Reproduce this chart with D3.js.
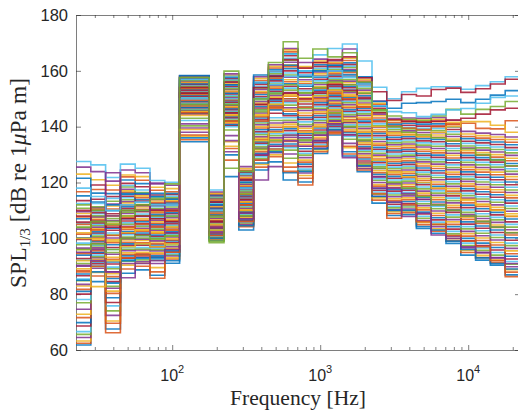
<!DOCTYPE html>
<html><head><meta charset="utf-8">
<script src="https://cdn.jsdelivr.net/npm/d3@7"></script>
<style>body{margin:0;background:#fff}svg{display:block}</style>
</head><body><svg id="c" width="518" height="412"></svg>
<script>
// 1/3-octave band centres (Hz)
const bandCenters = [25, 31.5, 40, 50, 63, 80, 100, 125, 160, 200, 250, 315, 400, 500, 630, 800, 1000, 1250, 1600, 2000, 2500, 3150, 4000, 5000, 6300, 8000, 10000, 12500, 16000, 20000];
const yTicks = [60, 80, 100, 120, 140, 160, 180];
const xMajorTicks = [100, 1000, 10000];
const xMajorExp = ["2", "3", "4"];
const xMinorTicks = [30, 40, 50, 60, 70, 80, 90, 200, 300, 400, 500, 600, 700, 800, 900, 2000, 3000, 4000, 5000, 6000, 7000, 8000, 9000, 20000];

// Levels (dB re 1 uPa m) read per band for the bulk of the recordings, low to high
const lv25 = [61.8, 62.4, 63.2, 64.5, 65.6, 66.6, 68.6, 69.8, 71.6, 72.8, 74.6, 76.9, 78.1, 80, 81, 81.7, 82.9, 83.5, 84.8, 85.4, 86.6, 87.2, 88.5, 89.1, 90.3, 91, 92.2, 92.8, 94, 94.6, 95.9, 96.5, 97.7, 98.3, 99.6, 100.2, 101.5, 102, 103.3, 103.9, 105.2, 105.8, 107, 107.7, 108.9, 109.5, 110.8, 112.5, 113.5, 115.2, 116.7, 123, 125.5];
const lv31 = [84.5, 86.5, 87.8, 89.3, 89.9, 90.3, 90.9, 91.5, 91.8, 92.5, 93.1, 93.4, 94, 94.7, 95, 95.6, 96.2, 96.6, 97.3, 97.6, 98.2, 98.9, 99.2, 99.8, 100.4, 100.8, 101.5, 101.9, 102.4, 103.1, 103.4, 104, 104.6, 105.1, 105.5, 106.2, 106.6, 107.3, 107.7, 108.1, 108.8, 109.2, 109.9, 110.3, 110.8, 111, 111.3, 112.5, 114, 116.2, 117.5, 121, 123.9];
const lv40 = [67.5, 69.6, 70.4, 72.4, 74, 75.8, 77, 78.7, 80.3, 81.1, 82.1, 82.8, 83.9, 84.5, 85.6, 86.3, 87.3, 88, 89.1, 89.7, 90.8, 91.5, 92.5, 93.2, 94.3, 94.9, 96, 96.7, 97.7, 98.4, 99.5, 100.1, 101.2, 101.9, 102.9, 103.6, 104.7, 105.3, 106.4, 107.1, 108.1, 108.8, 109.9, 110.5, 111.6, 112.3, 113.3, 114.3, 115, 116, 117.3, 119, 120.5];
const lv50 = [87.5, 89, 90.4, 91, 91.8, 92.3, 92.9, 93.7, 94.2, 94.8, 95.6, 96.1, 96.7, 97.5, 98, 98.6, 99.4, 99.9, 100.5, 101.3, 101.8, 102.4, 103.2, 103.7, 104.3, 105.1, 105.6, 106.2, 107, 107.5, 108.1, 108.9, 109.4, 110, 110.8, 111.3, 111.9, 112.7, 113.2, 113.8, 114.6, 115.1, 115.7, 116.5, 117, 117.6, 118.4, 118.9, 119.7, 120.9, 122, 122.7, 124.5];
const lv63 = [88.7, 90, 91.1, 91.6, 92.3, 92.8, 93.3, 94.1, 94.5, 95, 95.8, 96.2, 96.7, 97.5, 98, 98.4, 99.2, 99.7, 100.1, 100.9, 101.4, 101.9, 102.6, 103.1, 103.6, 104.3, 104.8, 105.3, 106, 106.5, 107, 107.8, 108.2, 108.7, 109.5, 110, 110.4, 111.2, 111.7, 112.1, 112.9, 113.4, 113.9, 114.6, 115.2, 115.8, 116.4, 117.3, 118.5, 119.6, 120.8, 122.1, 123.5];
const lv80 = [86.8, 88, 89.5, 91, 92.2, 92.6, 93.3, 93.7, 94.4, 94.8, 95.5, 95.9, 96.5, 97, 97.6, 98, 98.7, 99.1, 99.7, 100.2, 100.8, 101.2, 101.8, 102.3, 102.9, 103.3, 103.9, 104.4, 105, 105.4, 106, 106.5, 107.1, 107.5, 108.1, 108.6, 109.2, 109.6, 110.3, 110.7, 111.3, 111.8, 112.4, 112.8, 113.4, 113.9, 114.5, 114.9, 115.5, 116.1, 117.2, 118.3, 119.5];
const lv100 = [92, 92.6, 93, 93.7, 94.1, 94.5, 95.1, 95.5, 96.1, 96.4, 97, 97.6, 98, 98.4, 99.1, 99.4, 99.9, 100.5, 100.8, 101.5, 101.9, 102.3, 103, 103.3, 103.8, 104.4, 104.8, 105.2, 105.9, 106.3, 106.7, 107.4, 107.8, 108.2, 108.8, 109.2, 109.7, 110.3, 110.6, 111.2, 111.8, 112.1, 112.7, 113.1, 113.6, 114.2, 114.5, 115.1, 115.7, 116.1, 116.7, 117.8, 119];
const lv125 = [134.6, 135.3, 136.6, 139.5, 140.3, 142.2, 144.6, 144.9, 145.3, 145.5, 145.9, 146.1, 146.4, 146.8, 147, 147.4, 147.6, 147.9, 148.3, 148.5, 148.9, 149.1, 149.4, 149.8, 150, 150.4, 150.6, 150.9, 151.3, 151.5, 151.9, 152.1, 152.4, 152.8, 153, 153.4, 153.6, 153.9, 154.3, 154.5, 154.9, 155.1, 155.4, 155.8, 156, 156.4, 156.6, 156.9, 157.3, 157.5, 157.8, 158, 158.2];
const lv160 = [134.6, 135.3, 136.6, 139.5, 140.3, 142.2, 144.6, 144.9, 145.3, 145.5, 145.9, 146.1, 146.4, 146.8, 147, 147.4, 147.6, 147.9, 148.3, 148.5, 148.9, 149.1, 149.4, 149.8, 150, 150.4, 150.6, 150.9, 151.3, 151.5, 151.9, 152.1, 152.4, 152.8, 153, 153.4, 153.6, 153.9, 154.3, 154.5, 154.9, 155.1, 155.4, 155.8, 156, 156.4, 156.6, 156.9, 157.3, 157.5, 157.8, 158, 158.2];
const lv200 = [99.2, 99.6, 99.9, 100.3, 100.5, 100.9, 101.2, 101.6, 101.9, 102.2, 102.6, 102.9, 103.3, 103.5, 103.9, 104.2, 104.6, 104.9, 105.2, 105.6, 105.9, 106.3, 106.5, 106.9, 107.2, 107.6, 107.9, 108.2, 108.6, 108.9, 109.3, 109.5, 109.9, 110.2, 110.6, 110.9, 111.2, 111.6, 111.9, 112.3, 112.5, 112.9, 113.2, 113.6, 113.9, 114.2, 114.6, 114.9, 115.3, 115.5, 115.9, 116.2, 116.6];
const lv250 = [129.9, 132.2, 134.6, 136.8, 138.8, 140, 140.5, 140.8, 141.3, 141.6, 142.1, 142.4, 142.9, 143.2, 143.7, 144, 144.5, 144.8, 145.3, 145.6, 146.1, 146.4, 146.9, 147.2, 147.7, 148, 148.5, 148.8, 149.3, 149.6, 150.1, 150.4, 150.9, 151.2, 151.7, 152, 152.5, 152.8, 153.3, 153.6, 154.1, 154.4, 154.9, 155.2, 155.7, 156, 156.5, 156.8, 157.3, 157.6, 158.1, 158.4, 158.9];
const lv315 = [103, 104.2, 104.7, 105, 105.5, 105.8, 106.3, 106.7, 107.1, 107.5, 107.9, 108.3, 108.7, 109.2, 109.5, 110, 110.4, 110.8, 111.2, 111.6, 112, 112.5, 112.9, 113.3, 113.7, 114.1, 114.5, 114.9, 115.4, 115.7, 116.2, 116.6, 117, 117.4, 117.8, 118.2, 118.7, 119.1, 119.4, 119.9, 120.3, 120.7, 121.1, 121.5, 121.9, 122.4, 122.8, 123.2, 123.6, 124, 124.4, 125, 125.7];
const lv400 = [124.5, 125.5, 126.5, 128, 128.6, 129.2, 129.8, 130.5, 131, 131.7, 132.3, 132.8, 133.5, 134.1, 134.6, 135.3, 135.9, 136.4, 137.1, 137.7, 138.2, 138.9, 139.5, 140, 140.7, 141.3, 141.8, 142.5, 143.1, 143.6, 144.3, 144.9, 145.4, 146.1, 146.7, 147.2, 147.9, 148.5, 149, 149.7, 150.3, 150.8, 151.5, 152.1, 152.6, 153.3, 153.9, 154.4, 155.1, 155.7, 156.5, 157.3, 157.9];
const lv500 = [127.4, 129.2, 129.9, 130.7, 131.5, 132.2, 133, 133.7, 134.5, 135.3, 136, 136.8, 137.5, 138.3, 139, 139.8, 140.6, 141.3, 142.2, 143.2, 144.8, 146, 146.5, 147, 147.5, 148, 148.6, 149.1, 149.6, 150.1, 150.6, 151.2, 151.7, 152.2, 152.7, 153.2, 153.8, 154.3, 154.8, 155.3, 155.8, 156.4, 156.9, 157.4, 157.9, 158.4, 159, 159.5, 160, 160.5, 161, 161.6, 162.2];
const lv630 = [123.5, 125.5, 127, 130.2, 131.6, 132.5, 133.1, 133.8, 134.7, 135.5, 136.2, 136.9, 137.7, 138.6, 139.3, 140, 140.9, 141.6, 142.3, 143.2, 143.9, 144.6, 145.5, 146.2, 146.8, 147.7, 148.6, 149.2, 150, 150.9, 151.5, 152.2, 153.1, 153.8, 154.5, 155.4, 156.1, 156.8, 157.7, 158.5, 159.2, 160, 160.8, 161.5, 162.2, 163.1, 163.8, 164.5, 165.4, 166.1, 166.8, 167.5, 168];
const lv800 = [120.2, 121.5, 122.5, 123.4, 124.1, 124.8, 125.7, 126.6, 127.3, 128, 128.9, 129.8, 130.5, 131.2, 132.1, 133, 133.7, 134.4, 135.3, 136.2, 136.9, 137.6, 138.5, 139.4, 140.1, 140.8, 141.7, 142.6, 143.3, 144, 144.9, 145.8, 146.5, 147.2, 148.1, 149, 149.7, 150.4, 151.3, 152.2, 152.9, 153.6, 154.5, 155.4, 156.1, 156.8, 157.7, 158.6, 159.3, 160, 160.9, 161.5, 163];
const lv1000 = [130.4, 131, 131.7, 132.3, 133, 133.6, 134.3, 134.9, 135.6, 136.2, 136.9, 137.5, 138.2, 138.8, 139.5, 140.1, 140.8, 141.4, 142.1, 142.7, 143.4, 144, 144.7, 145.3, 146, 146.6, 147.3, 147.9, 148.6, 149.2, 149.9, 150.5, 151.2, 151.8, 152.5, 153.1, 153.8, 154.4, 155.1, 155.7, 156.4, 157, 157.7, 158.3, 159, 159.6, 160.3, 160.9, 161.6, 162.2, 162.9, 163.5, 164.2];
const lv1250 = [137, 137.5, 138, 138.5, 139, 139.6, 140.1, 140.6, 141.1, 141.6, 142.1, 142.6, 143.1, 143.6, 144.2, 144.7, 145.2, 145.7, 146.2, 146.7, 147.2, 147.7, 148.2, 148.8, 149.3, 149.8, 150.3, 150.8, 151.3, 151.8, 152.3, 152.8, 153.4, 153.9, 154.4, 154.9, 155.4, 155.9, 156.4, 156.9, 157.4, 158, 158.5, 159, 159.5, 160, 160.5, 161, 161.5, 162, 162.6, 163.1, 163.6];
const lv1600 = [129.5, 130.2, 132.5, 134, 135.5, 136.5, 137.1, 137.8, 138.3, 138.9, 139.6, 140.1, 140.7, 141.4, 141.9, 142.5, 143.2, 143.7, 144.3, 145, 145.5, 146.1, 146.8, 147.3, 147.9, 148.6, 149.1, 149.7, 150.4, 150.9, 151.5, 152.2, 152.7, 153.3, 154, 154.5, 155.1, 155.8, 156.3, 156.9, 157.6, 158.1, 158.7, 159.4, 159.9, 160.5, 161.2, 161.7, 162.3, 162.9, 163.7, 164.5, 167.8];
const lv2000 = [123.9, 124.5, 125.1, 125.8, 126.4, 127.1, 127.7, 128.4, 129, 129.7, 130.3, 131, 131.6, 132.3, 132.9, 133.6, 134.2, 134.9, 135.5, 136.2, 136.8, 137.5, 138.1, 138.8, 139.4, 140.1, 140.7, 141.4, 142, 142.7, 143.3, 144, 144.6, 145.3, 145.9, 146.6, 147.2, 147.9, 148.5, 149.2, 149.8, 150.5, 151.1, 151.8, 152.4, 153.1, 153.7, 154.4, 155, 155.7, 156.3, 157, 157.6];
const lv2500 = [112.6, 113.7, 114.5, 115.1, 115.8, 116.6, 117.2, 117.9, 118.7, 119.3, 120, 120.8, 121.4, 122.1, 122.9, 123.5, 124.2, 125, 125.6, 126.3, 127.1, 127.7, 128.4, 129.2, 129.8, 130.5, 131.3, 131.9, 132.6, 133.4, 134, 134.7, 135.5, 136.1, 136.8, 137.6, 138.2, 138.9, 139.7, 140.3, 141, 141.8, 142.4, 143.1, 143.9, 144.5, 145.2, 146, 146.6, 147.3, 148, 148.4, 149.2];
const lv3150 = [108.2, 108.9, 109.5, 110.2, 110.9, 111.5, 112.2, 112.9, 113.5, 114.2, 114.9, 115.5, 116.2, 116.9, 117.5, 118.2, 118.9, 119.5, 120.2, 120.9, 121.5, 122.2, 122.9, 123.5, 124.2, 124.9, 125.5, 126.2, 126.9, 127.5, 128.2, 128.9, 129.5, 130.2, 130.9, 131.5, 132.2, 132.9, 133.5, 134.2, 134.9, 135.5, 136.2, 136.9, 137.5, 138.2, 138.9, 139.5, 140.2, 140.9, 141.5, 142.2, 142.9];
const lv4000 = [108.5, 109.2, 109.8, 110.5, 111.2, 111.8, 112.5, 113.2, 113.8, 114.5, 115.2, 115.8, 116.5, 117.2, 117.8, 118.5, 119.2, 119.8, 120.5, 121.2, 121.8, 122.5, 123.2, 123.8, 124.5, 125.2, 125.8, 126.5, 127.2, 127.8, 128.5, 129.2, 129.8, 130.5, 131.2, 131.8, 132.5, 133.2, 133.8, 134.5, 135.2, 135.8, 136.5, 137.2, 137.8, 138.5, 139.2, 139.8, 140.5, 141.2, 141.8, 142.5, 143.1];
const lv5000 = [104.2, 104.9, 105.7, 106.4, 107.2, 107.9, 108.7, 109.4, 110.2, 110.9, 111.7, 112.4, 113.2, 113.9, 114.7, 115.4, 116.2, 116.9, 117.7, 118.4, 119.2, 119.9, 120.7, 121.4, 122.2, 122.9, 123.7, 124.4, 125.2, 125.9, 126.7, 127.4, 128.2, 128.9, 129.7, 130.4, 131.2, 131.9, 132.7, 133.4, 134.2, 134.9, 135.7, 136.4, 137.2, 137.9, 138.7, 139.4, 140.2, 140.9, 141.7, 142.4, 143];
const lv6300 = [101.8, 102.6, 103.4, 104.2, 105, 105.8, 106.6, 107.4, 108.2, 109, 109.8, 110.6, 111.4, 112.2, 113, 113.8, 114.6, 115.4, 116.2, 117, 117.8, 118.6, 119.4, 120.2, 121, 121.8, 122.6, 123.4, 124.2, 125, 125.8, 126.6, 127.4, 128.2, 129, 129.8, 130.6, 131.4, 132.2, 133, 133.8, 134.6, 135.4, 136.2, 137, 137.8, 138.6, 139.4, 140.2, 141, 141.8, 142.6, 143.3];
const lv8000 = [98.2, 99.1, 99.9, 100.8, 101.6, 102.5, 103.3, 104.2, 105, 105.9, 106.7, 107.6, 108.4, 109.3, 110.1, 111, 111.8, 112.7, 113.5, 114.4, 115.2, 116.1, 116.9, 117.8, 118.6, 119.5, 120.3, 121.2, 122, 122.9, 123.7, 124.6, 125.4, 126.3, 127.1, 128, 128.8, 129.7, 130.5, 131.4, 132.2, 133.1, 133.9, 134.8, 135.6, 136.5, 137.3, 138.2, 139, 139.9, 140.7, 141.6, 142.3];
const lv10k = [94, 94.9, 95.7, 96.6, 97.4, 98.3, 99.1, 100, 100.8, 101.7, 102.5, 103.4, 104.2, 105.1, 105.9, 106.8, 107.6, 108.5, 109.3, 110.2, 111, 111.9, 112.7, 113.6, 114.4, 115.3, 116.1, 117, 117.8, 118.7, 119.5, 120.4, 121.2, 122.1, 122.9, 123.8, 124.6, 125.5, 126.3, 127.2, 128, 128.9, 129.7, 130.6, 131.4, 132.3, 133.1, 134, 134.8, 135.7, 136.5, 137.4, 138.3];
const lv12k = [92.2, 93.1, 93.9, 94.8, 95.7, 96.6, 97.4, 98.3, 99.2, 100.1, 100.9, 101.8, 102.7, 103.6, 104.4, 105.3, 106.2, 107.1, 107.9, 108.8, 109.7, 110.6, 111.4, 112.3, 113.2, 114.1, 114.9, 115.8, 116.7, 117.6, 118.4, 119.3, 120.2, 121.1, 121.9, 122.8, 123.7, 124.6, 125.4, 126.3, 127.2, 128.1, 128.9, 129.8, 130.7, 131.6, 132.4, 133.3, 134.2, 135.1, 135.9, 136.8, 137.7];
const lv16k = [90.4, 91.3, 92.2, 93.1, 94, 94.9, 95.8, 96.7, 97.6, 98.5, 99.4, 100.3, 101.2, 102.1, 103, 103.9, 104.8, 105.7, 106.6, 107.5, 108.4, 109.3, 110.2, 111.1, 112, 112.9, 113.8, 114.7, 115.6, 116.5, 117.4, 118.3, 119.2, 120.1, 121, 121.9, 122.8, 123.7, 124.6, 125.5, 126.4, 127.3, 128.2, 129.1, 130, 130.9, 131.8, 132.7, 133.6, 134.5, 135.4, 136.3, 137.2];
const lv20k = [86.9, 87.9, 88.8, 89.8, 90.7, 91.7, 92.6, 93.6, 94.5, 95.5, 96.4, 97.4, 98.3, 99.3, 100.2, 101.2, 102.1, 103.1, 104, 105, 105.9, 106.9, 107.8, 108.8, 109.7, 110.7, 111.6, 112.6, 113.5, 114.5, 115.4, 116.4, 117.3, 118.3, 119.2, 120.2, 121.1, 122.1, 123, 124, 124.9, 125.9, 126.8, 127.8, 128.7, 129.7, 130.6, 131.6, 132.5, 133.5, 134.4, 135.4, 136.3];

// Individually traceable recordings (full spectra, drawn last)
const recD  = [112, 110, 106, 108, 110, 108, 108, 148, 148, 108, 148, 116, 146, 152, 155, 152, 154, 156, 155, 152, 146, 143.8, 142.6, 142.2, 143.8, 146.2, 144.5, 146.2, 147.2, 149];
const recA  = [127.5, 126.3, 121.8, 126.6, 125.1, 120.7, 120.1, 157, 157, 117.3, 158, 123, 156, 160, 166, 160, 165.7, 168, 169.6, 163.5, 154.1, 150, 152.5, 153.7, 154.3, 154.3, 153.4, 154.7, 156.1, 157.9];
const recE  = [110, 119.1, 108, 110, 112, 110, 110, 152, 152, 106, 145, 114, 148, 150, 152, 150, 152, 155, 153, 150, 145, 142.5, 142, 141.6, 142, 142.4, 143, 144.5, 146, 146.6];
const recB  = [121.5, 113, 112, 116, 116, 115, 114, 158.3, 158.3, 112, 155, 120, 158.5, 158, 162, 158, 160, 162, 160, 157.9, 149, 146.6, 148.4, 148.6, 149, 149.8, 148.6, 149.8, 151.3, 152.9];
const recF  = [105, 103, 101, 104, 105, 104, 103, 145, 145, 104, 142, 112, 142, 147, 150, 147, 150, 152, 150, 147, 142, 140, 139.5, 139, 140, 141, 141.2, 139.4, 139.2, 142.1];
const recG  = [100, 100, 99, 102, 103, 102, 104, 144, 144, 105, 144, 113, 144, 148, 151, 149, 151, 153, 151, 148, 140, 138, 137, 136.5, 138, 140, 141.8, 141.8, 140.5, 138];
const recH  = [95, 96, 123.5, 100, 101, 119.8, 102, 141, 141, 104, 135, 109, 120.9, 125.7, 137, 136, 137, 142, 137, 132, 122, 118, 116, 114, 112, 110, 108, 106, 104, 102];
const recI  = [96, 98, 96, 100, 101, 100, 101, 143, 143, 99, 125.1, 108, 132, 135, 128.7, 135, 138, 145, 140, 135, 125, 120, 118, 115, 112, 110, 108, 106, 104, 102];
const recC  = [118, 115, 110, 112, 113, 112, 112, 150, 150, 110, 150, 118, 150, 155, 158, 155, 158, 160, 158, 155, 147.5, 145.4, 145, 143.6, 144.4, 146, 146.5, 148.4, 150.5, 151];
const recA2 = [108, 106, 104, 107, 108, 107, 106, 154, 154, 113, 156, 121, 154, 158, 164, 161, 163, 164, 165, 157.5, 152.5, 149.4, 151.5, 151, 153.3, 153.8, 152.3, 153.6, 155.3, 157];
const recJ  = [85, 88, 84, 92, 93, 93, 91.1, 136, 136, 100, 122.1, 104.5, 127, 131, 120.9, 124, 132, 139, 131, 126, 115, 110, 110, 103.5, 103, 99, 96, 93, 91, 89];
const recK  = [88, 90, 66.2, 93, 94, 85.7, 95, 137, 137, 101, 128, 106, 128, 132, 124, 119.1, 133, 138, 133, 127, 116, 107.2, 112, 106, 105, 101, 99, 97, 92, 86.3];
const recL  = [92, 82.7, 92, 97, 98, 97, 98, 139, 139, 103, 133, 110, 135, 138, 140, 138, 140, 146, 142, 138, 128, 124, 122, 120, 118, 116, 114, 112, 110, 108];
const recM  = [90, 92, 88, 85.9, 91, 92, 96, 138, 138, 102, 131, 107, 130, 133, 135, 133, 135, 141, 128.9, 125, 118, 113, 107.8, 109, 101.2, 100, 97, 95, 93, 91];
const recG0 = [104, 106, 105, 110, 112, 114, 119.5, 157.6, 157.6, 98.4, 159.9, 124, 150, 163, 170.4, 164.5, 167.8, 165, 166.5, 156, 146, 140, 138, 137, 136, 135, 132, 130, 128, 126];

const bandLevels = [lv25, lv31, lv40, lv50, lv63, lv80, lv100, lv125, lv160, lv200, lv250, lv315, lv400, lv500, lv630, lv800, lv1000, lv1250, lv1600, lv2000, lv2500, lv3150, lv4000, lv5000, lv6300, lv8000, lv10k, lv12k, lv16k, lv20k];
const recordings = [recD, recA, recE, recB, recF, recG, recH, recI, recC, recA2, recJ, recK, recL, recM, recG0];

// ---------- drawing ----------
const colors = ["#0072BD", "#D95319", "#EDB120", "#7E2F8E", "#77AC30", "#4DBEEE", "#A2142F"];
const X0 = 76, X1 = 520, Y0 = 15, Y1 = 350;
const svg = d3.select("#c");

// band edges (base-10 third-octave definition)
const bandEdges = bandCenters.map(f => Math.pow(10, (Math.round(10 * Math.log10(f)) - 0.5) / 10));
bandEdges.push(Math.pow(10, (Math.round(10 * Math.log10(bandCenters[bandCenters.length - 1])) + 0.5) / 10));

const x = d3.scaleLog().domain([bandEdges[0], bandEdges[bandEdges.length - 1]]).range([X0, X1]);
const y = d3.scaleLinear().domain([60, 180]).range([Y1, Y0]);

const nBulk = bandLevels[0].length;
const series = d3.range(nBulk).map(i => bandLevels.map(b => b[i])).concat(recordings);

svg.append("defs").append("clipPath").attr("id", "clip")
  .append("rect").attr("x", X0).attr("y", Y0).attr("width", X1 - X0).attr("height", Y1 - Y0);

const axisCol = "#262626";
function styleAxis(g) {
  g.selectAll("path.domain").attr("stroke", axisCol).attr("stroke-width", 0.6);
  g.selectAll(".tick line").attr("stroke", axisCol).attr("stroke-width", 0.6);
}
const sans = "Liberation Sans, Arial, sans-serif";
// axes (below data, as in the source)
const gl = svg.append("g").attr("transform", `translate(${X0},0)`)
  .call(d3.axisLeft(y).tickValues(yTicks).tickSize(-5).tickSizeOuter(0).tickPadding(8));
styleAxis(gl);
gl.selectAll("text").attr("font-family", sans).attr("font-size", 16.5).attr("fill", axisCol);
const gr = svg.append("g").attr("transform", `translate(${X1},0)`)
  .call(d3.axisRight(y).tickValues(yTicks).tickSize(-5).tickSizeOuter(0).tickFormat(() => ""));
styleAxis(gr);
const gb = svg.append("g").attr("transform", `translate(0,${Y1})`)
  .call(d3.axisBottom(x).tickValues(xMajorTicks).tickSize(-5).tickSizeOuter(0).tickFormat(() => ""));
styleAxis(gb);
const gbm = svg.append("g").attr("transform", `translate(0,${Y1})`)
  .call(d3.axisBottom(x).tickValues(xMinorTicks).tickSize(-3).tickSizeOuter(0).tickFormat(() => ""));
styleAxis(gbm); gbm.select("path.domain").remove();
const gt = svg.append("g").attr("transform", `translate(0,${Y0})`)
  .call(d3.axisTop(x).tickValues(xMajorTicks).tickSize(-5).tickSizeOuter(0).tickFormat(() => ""));
styleAxis(gt);
const gtm = svg.append("g").attr("transform", `translate(0,${Y0})`)
  .call(d3.axisTop(x).tickValues(xMinorTicks).tickSize(-3).tickSizeOuter(0).tickFormat(() => ""));
styleAxis(gtm); gtm.select("path.domain").remove();

// x tick labels 10^n
const xl = svg.append("g").attr("font-family", sans).attr("fill", axisCol);
xMajorTicks.forEach((t, i) => {
  const tx = xl.append("text").attr("x", x(t)).attr("y", 381).attr("text-anchor", "middle").attr("font-size", 16);
  tx.append("tspan").text("10");
  tx.append("tspan").attr("dy", -8).attr("font-size", 11).text(xMajorExp[i]);
});

// data: stairs
const line = d3.line().x(d => x(d[0])).y(d => y(d[1])).curve(d3.curveStepAfter);
const gd = svg.append("g").attr("clip-path", "url(#clip)");
series.forEach((v, i) => {
  const pts = v.map((val, k) => [bandEdges[k], val]);
  pts.push([bandEdges[bandEdges.length - 1], v[v.length - 1]]);
  gd.append("path").attr("d", line(pts)).attr("fill", "none")
    .attr("stroke", colors[i % colors.length]).attr("stroke-width", 1.6).attr("stroke-opacity", 0.85);
});

// axis labels (serif, fitted to the extent they have in the source)
const serif = "Liberation Serif, serif";
const xlab = svg.append("text").attr("x", 298).attr("y", 405).attr("text-anchor", "middle")
  .attr("font-family", serif).attr("font-size", 20).attr("fill", axisCol).text("Frequency [Hz]");
const xw = xlab.node().getComputedTextLength();
xlab.attr("font-size", 20 * 136 / xw);

const yl = svg.append("text").attr("transform", `translate(26,183) rotate(-90)`)
  .attr("text-anchor", "middle").attr("font-family", serif).attr("font-size", 20).attr("fill", axisCol);
yl.append("tspan").text("SPL");
const ysub = yl.append("tspan").attr("dy", 4).attr("font-size", 13).text("1/3");
yl.append("tspan").attr("dy", -4).text(" [dB re 1");
yl.append("tspan").attr("font-style", "italic").text("μ");
yl.append("tspan").text("Pa m]");
const yw = yl.node().getComputedTextLength();
const ys = 210 / yw;
yl.attr("font-size", 20 * ys);
ysub.attr("font-size", 13 * ys);
</script></body></html>
